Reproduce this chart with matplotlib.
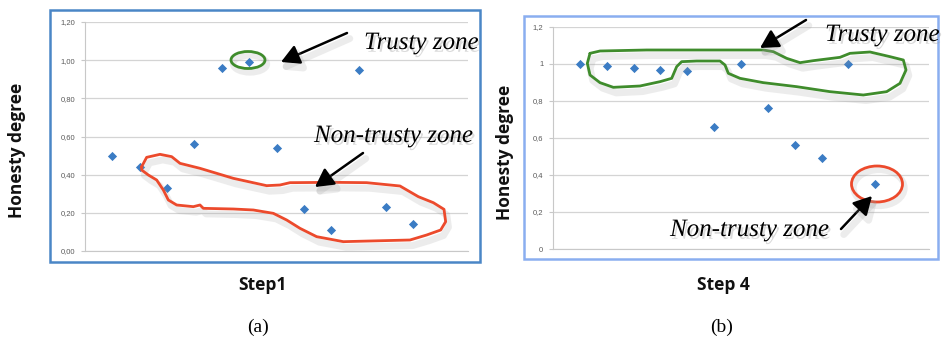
import matplotlib.pyplot as plt
import matplotlib.patheffects as pe
from matplotlib.patches import Ellipse, Rectangle
from matplotlib.transforms import Bbox
import numpy as np

# data
points = [1, 2, 3, 4, 5, 6, 7, 8, 9, 10, 11, 12]
step1 = [0.50, 0.44, 0.33, 0.56, 0.96, 0.99, 0.54, 0.22, 0.11, 0.95, 0.23, 0.14]
step4 = [1.00, 0.99, 0.98, 0.97, 0.96, 0.66, 1.00, 0.76, 0.56, 0.49, 1.00, 0.35]
yticks = [0, 0.2, 0.4, 0.6, 0.8, 1.0, 1.2]
ylabels_a = ['0,00', '0,20', '0,40', '0,60', '0,80', '1,00', '1,20']
ylabels_b = ['0', '0,2', '0,4', '0,6', '0,8', '1', '1,2']

W, H = 943, 347
fig = plt.figure(figsize=(W / 100, H / 100), dpi=100)

def px(x0, y0, x1, y1):
    # pixel box (top-left origin) -> figure fraction rect
    return [x0 / W, 1 - y1 / H, (x1 - x0) / W, (y1 - y0) / H]

def panel(rect, vals, labels):
    ax = fig.add_axes(px(*rect))
    ax.scatter(points, vals, marker='D', s=22, color='#3b7cc4', zorder=3, linewidths=0)
    ax.set_xlim(0, 14)
    ax.set_ylim(0, 1.2)
    ax.set_yticks(yticks)
    ax.set_yticklabels(labels, fontsize=5.5, color='#5a5a5a', family='Liberation Sans')
    ax.set_xticks([])
    ax.grid(axis='y', color='#d4d4d4', lw=0.9)
    ax.set_axisbelow(True)
    for s in ['top', 'right']:
        ax.spines[s].set_visible(False)
    ax.spines['left'].set_color('#c8c8c8')
    ax.spines['bottom'].set_color('#c8c8c8')
    ax.tick_params(axis='y', length=3, color='#c8c8c8', pad=4)
    ax.patch.set_alpha(0)
    return ax

axa = panel((85, 22, 468, 251), step1, ylabels_a)
axb = panel((553, 27, 929, 249), step4, ylabels_b)

# overlay in pixel space for frames, labels and hand-drawn marks
ov = fig.add_axes([0, 0, 1, 1], zorder=10)
ov.set_xlim(0, W)
ov.set_ylim(H, 0)
ov.axis('off')
ov.patch.set_alpha(0)

ov.add_patch(Rectangle((50, 10), 430, 252, fill=False, ec='#4a86c6', lw=1.8))
ov.add_patch(Rectangle((524, 16), 414, 243, fill=False, ec='#8aaef0', lw=1.8))

lab = dict(fontsize=12.5, fontweight='bold', family='Open Sans', color='#111111',
           ha='center', va='center')
ov.text(17, 150, 'Honesty degree', rotation=90, **lab)
ov.text(505, 152, 'Honesty degree', rotation=90, **lab)
ov.text(262, 285, 'Step1', **lab)
ov.text(723, 285, 'Step 4', **lab)
ov.text(258, 327, '(a)', fontsize=14, family='Liberation Serif', ha='center', va='center')
ov.text(722, 327, '(b)', fontsize=14, family='Liberation Serif', ha='center', va='center')

shadow_line = [pe.SimpleLineShadow(offset=(2, -4), shadow_color='#999999', alpha=0.18, linewidth=5),
               pe.Normal()]

red = '#ec4a2c'
green = '#3f8c2c'

def loop(pts, color, off):
    p = np.array(pts, dtype=float) / 3.0
    ov.plot(p[:, 0] + off, p[:, 1], color=color, lw=2.0,
            solid_joinstyle='round', solid_capstyle='round', path_effects=shadow_line)

def ring(center, w, h, color):
    cx, cy = center
    ov.add_patch(Ellipse((cx + 2, cy + 4), w, h, fill=False, ec='#999999', lw=4.5, alpha=0.18))
    ov.add_patch(Ellipse(center, w, h, fill=False, ec=color, lw=2.0))

# step 1 non-trusty loop (zoom coords of left panel)
loop([(425, 500), (440, 472), (480, 463), (515, 470), (540, 490), (600, 505), (700, 535),
      (800, 557), (840, 555), (870, 548), (1000, 547), (1100, 548), (1200, 558), (1255, 590),
      (1300, 608), (1332, 628), (1337, 665), (1322, 690), (1280, 705), (1230, 720),
      (1150, 722), (1030, 725), (950, 710), (900, 685), (860, 660), (820, 640), (760, 630),
      (700, 627), (610, 625), (600, 615), (580, 620), (530, 615), (505, 600), (490, 570),
      (470, 540), (445, 525), (425, 510), (425, 500)], red, 0)

# step 4 trusty loop
loop([(330, 160), (360, 153), (500, 150), (700, 150), (850, 150), (880, 155), (920, 175),
      (960, 188), (1000, 182), (1080, 172), (1110, 160), (1170, 156), (1230, 170),
      (1270, 180), (1278, 210), (1260, 250), (1220, 275), (1150, 285), (1050, 275),
      (950, 260), (850, 248), (780, 235), (745, 220), (735, 195), (720, 183), (650, 183),
      (605, 185), (590, 200), (575, 235), (540, 245), (480, 258), (400, 262), (360, 248),
      (330, 225), (322, 190), (330, 160)], green, 480)

ring((248, 60), 34, 17, green)
ring((877, 184), 51, 36, red)

arrow = dict(arrowstyle='-|>,head_length=1.1,head_width=0.6', color='black', lw=1.8,
             shrinkA=0, shrinkB=0, path_effects=shadow_line)
ov.annotate('', xy=(281, 62), xytext=(347, 33), arrowprops=arrow)
ov.annotate('', xy=(315, 187), xytext=(363, 153), arrowprops=arrow)
ov.annotate('', xy=(760, 48), xytext=(806, 20), arrowprops=arrow)
ov.annotate('', xy=(872, 196), xytext=(841, 229), arrowprops=arrow)

zone = dict(fontsize=18, style='italic', family='Liberation Serif', color='black',
            va='center', ha='left',
            path_effects=[pe.withSimplePatchShadow(offset=(1.5, -2), shadow_rgbFace='#999999', alpha=0.35)])
t1 = ov.text(364, 43, 'Trusty zone', **zone)
t1.set_clip_box(Bbox.from_extents(0, 0, 482, H))
ov.text(314, 136, 'Non-trusty zone', **zone)
ov.text(825, 35, 'Trusty zone', **zone)
ov.text(670, 230, 'Non-trusty zone', **zone)

fig.savefig('out.png', dpi=100)
